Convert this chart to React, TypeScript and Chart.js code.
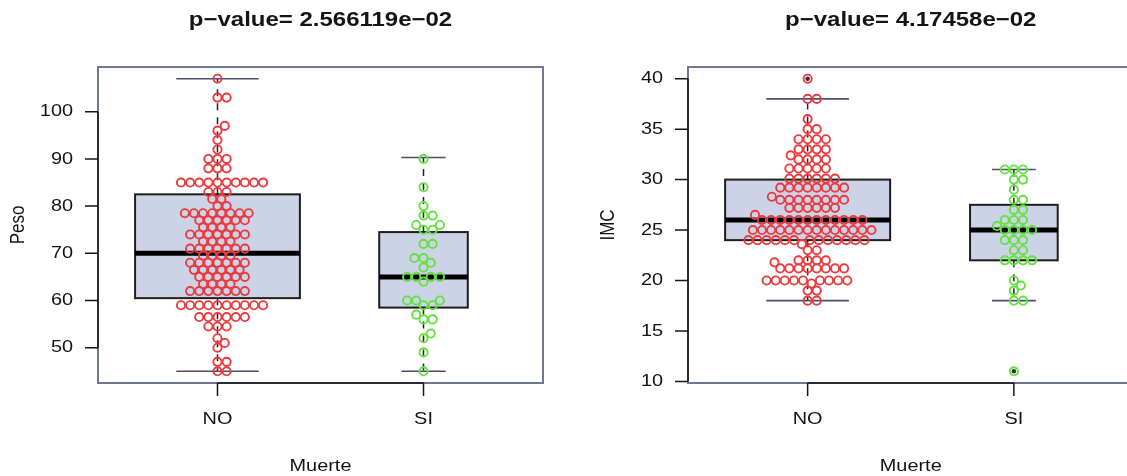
import React, { useEffect, useRef } from 'react';
import { Chart, registerables } from 'chart.js';

Chart.register(...registerables);

// ---------- data ----------
const categories = ['NO', 'SI'];
const xAxisTitle = 'Muerte';

const pesoTitle = 'p\u2212value= 2.566119e\u221202';
const pesoLabel = 'Peso';
const pesoTicks = [50, 60, 70, 80, 90, 100];
const pesoNo = [
  45, 45, 47, 47, 50, 51, 52, 54.5, 54.5, 54.5,
  56.5, 56.5, 56.5, 56.5, 56.5, 56.5,
  59, 59, 59, 59, 59, 59, 59, 59, 59, 59,
  62, 62, 62, 62, 62, 62, 62, 63.5, 63.5, 63.5, 63.5,
  65, 65, 65, 65, 65, 65, 66.5, 66.5, 66.5, 66.5, 66.5, 66.5,
  68, 68, 68, 68, 68, 68, 68, 69.5, 69.5, 69.5, 69.5,
  71, 71, 71, 71, 71, 71, 71, 72.5, 72.5, 72.5, 72.5,
  74, 74, 74, 74, 74, 74, 74, 75.5, 75.5, 75.5, 75.5,
  77, 77, 77, 77, 77, 77, 78.5, 78.5, 78.5, 78.5, 78.5, 78.5, 78.5, 78.5,
  80, 80, 81.5, 81.5, 83, 83, 83,
  85, 85, 85, 85, 85, 85, 85, 85, 85, 85,
  88, 88, 88, 90, 90, 90, 92, 94, 96, 97, 103, 103, 107,
];
const pesoSi = [
  45, 49, 52, 53, 56, 56, 57, 59, 59, 60, 60, 60, 64, 65, 65, 65, 65,
  67, 68, 69, 69, 72, 72, 75, 75, 76, 76, 78, 78, 80, 84, 90,
];
// [lower whisker, Q1, median, Q3, upper whisker]
const pesoStatsNo = [45, 60.5, 70, 82.5, 107];
const pesoStatsSi = [45, 58.5, 65, 74.5, 90.3];
const pesoBoxWidths = [0.8, 0.43];
const pesoOutliersNo: number[] = [];
const pesoOutliersSi: number[] = [];

const imcTitle = 'p\u2212value= 4.17458e\u221202';
const imcLabel = 'IMC';
const imcTicks = [10, 15, 20, 25, 30, 35, 40];
const imcNo = [
  18, 18, 19, 19, 19.7,
  20, 20, 20, 20, 20, 20, 20, 20, 20,
  21.2, 21.2, 21.2, 21.2, 21.2, 21.2, 21.2, 21.2, 21.8,
  22, 22, 22, 22, 23, 23, 23.6,
  24, 24, 24, 24, 24, 24, 24, 24, 24, 24, 24, 24, 24,
  25, 25, 25, 25, 25, 25, 25, 25, 25, 25, 25, 25, 25, 25,
  26, 26, 26, 26, 26, 26, 26, 26, 26, 26, 26, 26, 26.5,
  27.2, 27.2, 27.2, 27.2, 27.2, 27.2,
  28, 28, 28, 28, 28, 28, 28, 28, 28.3,
  29.2, 29.2, 29.2, 29.2, 29.2, 29.2, 29.2, 29.2,
  30.1, 30.1, 30.1, 30.1, 30.1, 30.1,
  31.1, 31.1, 31.1, 31.1, 31.1, 32, 32, 32, 32, 32.4,
  33, 33, 33, 33, 34, 34, 34, 34, 35, 35, 36, 38, 38, 40,
];
const imcSi = [
  11, 18, 18, 19, 19.5, 20, 22, 22, 22, 22, 23, 23, 24, 24, 24,
  25, 25, 25, 25, 25.4, 26, 26, 26, 27, 27, 28, 28, 29, 30, 30, 31, 31, 31,
];
const imcStatsNo = [18, 24, 26, 30, 38];
const imcStatsSi = [18, 22, 25, 27.5, 31];
const imcBoxWidths = [0.8, 0.425];
const imcOutliersNo = [40];
const imcOutliersSi = [11];

// ---------- styles ----------
const FONT = '"Liberation Sans", Arial, Helvetica, sans-serif';
const TEXT = '#141414';
const pointColors = ['#ea3a3e', '#62e23c'];
const boxFill = '#cdd3e6';
const frameColor = '#6f7797';
const STRETCH = 1.17;
const SWARM_D = 7.8;
const H = 476;

function swarmOffsets(pix: number[], d: number): number[] {
  const xs: number[] = [];
  const d2 = d * d * 0.999;
  for (let i = 0; i < pix.length; i++) {
    if (i === 0) { xs.push(0); continue; }
    const pos: number[] = [];
    const neg: number[] = [];
    const near: number[] = [];
    for (let j = 0; j < i; j++) {
      const dy = Math.abs(pix[i] - pix[j]);
      if (dy < d) {
        const off = Math.sqrt(d * d - dy * dy);
        pos.push(xs[j] + off);
        neg.push(xs[j] - off);
        near.push(j);
      }
    }
    if (near.length === 0) { xs.push(0); continue; }
    const cands = [0, ...pos, ...neg];
    let best = 0;
    let bestAbs = Infinity;
    for (const c of cands) {
      let ok = true;
      for (const j of near) {
        const dx = c - xs[j];
        const dy = pix[i] - pix[j];
        if (dx * dx + dy * dy < d2) { ok = false; break; }
      }
      if (ok && Math.abs(c) < bestAbs) { best = c; bestAbs = Math.abs(c); }
    }
    xs.push(best);
  }
  return xs;
}

function stretchText(ctx: CanvasRenderingContext2D, text: string, x: number, y: number, align: CanvasTextAlign, font: string) {
  ctx.save();
  ctx.font = font;
  ctx.textAlign = align;
  ctx.textBaseline = 'middle';
  ctx.translate(x, y);
  ctx.scale(STRETCH, 1);
  ctx.fillText(text, 0, 0);
  ctx.restore();
}

type PanelProps = {
  left: number;
  width: number;
  areaLeft: number;
  areaRight: number;
  title: string;
  yLabel: string;
  yTicks: number[];
  groups: number[][];
  stats: number[][];
  boxWidths: number[];
  outliers: number[][];
};

function Panel(props: PanelProps) {
  const ref = useRef<HTMLCanvasElement>(null);
  useEffect(() => {
    const { width, areaLeft, areaRight, title, yLabel, yTicks, groups, stats, boxWidths, outliers } = props;
    const all = groups.flat();
    const lo = Math.min(...all);
    const hi = Math.max(...all);
    const ext = (hi - lo) * 0.04;
    const n = categories.length;
    const xExt = n * 0.04;

    const boxPlugin = {
      id: 'boxes',
      beforeDatasetsDraw(chart: any) {
        const ctx = chart.ctx;
        const xs = chart.scales.x;
        const ys = chart.scales.y;
        ctx.save();
        stats.forEach((s, gi) => {
          const cx = xs.getPixelForValue(gi + 1);
          const hw = xs.getPixelForValue(gi + 1 + boxWidths[gi] / 2) - cx;
          const cw = hw / 2;
          const [wl, q1, md, q3, wh] = s.map((v) => ys.getPixelForValue(v));
          ctx.strokeStyle = '#222';
          ctx.lineWidth = 1.5;
          ctx.setLineDash([7, 7]);
          ctx.beginPath();
          ctx.moveTo(cx, q3); ctx.lineTo(cx, wh);
          ctx.moveTo(cx, q1); ctx.lineTo(cx, wl);
          ctx.stroke();
          ctx.setLineDash([]);
          ctx.strokeStyle = '#4a5068';
          ctx.lineWidth = 1.6;
          ctx.beginPath();
          ctx.moveTo(cx - cw, wh); ctx.lineTo(cx + cw, wh);
          ctx.moveTo(cx - cw, wl); ctx.lineTo(cx + cw, wl);
          ctx.stroke();
          ctx.fillStyle = boxFill;
          ctx.fillRect(cx - hw, q3, hw * 2, q1 - q3);
          ctx.strokeStyle = '#1e1e1e';
          ctx.lineWidth = 2;
          ctx.strokeRect(cx - hw, q3, hw * 2, q1 - q3);
          ctx.lineWidth = 5;
          ctx.strokeStyle = '#000';
          ctx.beginPath();
          ctx.moveTo(cx - hw, md); ctx.lineTo(cx + hw, md);
          ctx.stroke();
          ctx.fillStyle = '#333';
          outliers[gi].forEach((v) => {
            ctx.beginPath();
            ctx.arc(cx, ys.getPixelForValue(v), 2.3, 0, Math.PI * 2);
            ctx.fill();
          });
        });
        ctx.restore();
      },
      afterDraw(chart: any) {
        const ctx = chart.ctx;
        const xs = chart.scales.x;
        const ys = chart.scales.y;
        const a = chart.chartArea;
        ctx.save();
        ctx.strokeStyle = frameColor;
        ctx.lineWidth = 2;
        ctx.strokeRect(a.left, a.top, a.right - a.left, a.bottom - a.top);
        ctx.strokeStyle = '#151515';
        ctx.lineWidth = 1.5;
        ctx.beginPath();
        const yt = ys.ticks.map((t: any) => ys.getPixelForValue(t.value));
        const xt = xs.ticks.map((t: any) => xs.getPixelForValue(t.value));
        ctx.moveTo(a.left, yt[0]);
        ctx.lineTo(a.left, yt[yt.length - 1]);
        ctx.moveTo(xt[0], a.bottom);
        ctx.lineTo(xt[xt.length - 1], a.bottom);
        yt.forEach((p: number) => { ctx.moveTo(a.left, p); ctx.lineTo(a.left - 13, p); });
        xt.forEach((p: number) => { ctx.moveTo(p, a.bottom); ctx.lineTo(p, a.bottom + 13); });
        ctx.stroke();
        ctx.fillStyle = TEXT;
        const tickFont = `17px ${FONT}`;
        ys.ticks.forEach((t: any, i: number) => stretchText(ctx, String(t.value), a.left - 25, yt[i], 'right', tickFont));
        xs.ticks.forEach((t: any, i: number) => stretchText(ctx, categories[Math.round(t.value) - 1], xt[i], 419, 'center', tickFont));
        const cxm = (a.left + a.right) / 2;
        stretchText(ctx, title, cxm, 20, 'center', `bold 20.5px ${FONT}`);
        stretchText(ctx, xAxisTitle, cxm, 466, 'center', tickFont);
        ctx.save();
        ctx.translate(a.left - 79, (a.top + a.bottom) / 2);
        ctx.rotate(-Math.PI / 2);
        ctx.scale(1, STRETCH);
        ctx.font = tickFont;
        ctx.textAlign = 'center';
        ctx.textBaseline = 'middle';
        ctx.fillText(yLabel, 0, 0);
        ctx.restore();
        ctx.restore();
      },
    };

    const datasets = groups.map((vals, gi) => ({
      data: vals.map((v) => ({ x: gi + 1, y: v })),
      pointRadius: 4.1,
      pointHoverRadius: 4.1,
      pointBorderWidth: 1.9,
      pointBorderColor: pointColors[gi],
      pointBackgroundColor: 'rgba(0,0,0,0)',
      borderColor: pointColors[gi],
      backgroundColor: 'rgba(0,0,0,0)',
      showLine: false,
      clip: false as any,
    }));

    const chart = new Chart(ref.current as HTMLCanvasElement, {
      type: 'scatter',
      data: { datasets },
      options: {
        animation: false,
        responsive: false,
        maintainAspectRatio: false,
        devicePixelRatio: 1,
        events: [],
        layout: { padding: { left: 0, top: 67, right: width - areaRight, bottom: 0 } },
        plugins: { legend: { display: false }, tooltip: { enabled: false }, title: { display: false } },
        scales: {
          x: {
            type: 'linear',
            min: 1 - 0.5 - xExt,
            max: n + 0.5 + xExt,
            afterBuildTicks: (s: any) => { s.ticks = categories.map((_, i) => ({ value: i + 1 })); },
            afterFit: (s: any) => { s.height = H - 383; },
            ticks: { display: false },
            grid: { display: false },
            border: { display: false },
          },
          y: {
            type: 'linear',
            min: lo - ext,
            max: hi + ext,
            afterBuildTicks: (s: any) => { s.ticks = yTicks.map((v) => ({ value: v })); },
            afterFit: (s: any) => { s.width = areaLeft; },
            ticks: { display: false },
            grid: { display: false },
            border: { display: false },
          },
        },
      } as any,
      plugins: [boxPlugin],
    });

    const xs: any = chart.scales.x;
    const ys: any = chart.scales.y;
    const pxPerUnit = xs.getPixelForValue(2) - xs.getPixelForValue(1);
    groups.forEach((vals, gi) => {
      const order = vals.map((_, i) => i).sort((a, b) => vals[a] - vals[b] || a - b);
      const pix = order.map((i) => ys.getPixelForValue(vals[i]));
      const offs = swarmOffsets(pix, SWARM_D);
      (chart.data.datasets[gi] as any).data = order.map((idx, k) => ({
        x: gi + 1 + (offs[k] * STRETCH) / pxPerUnit,
        y: vals[idx],
      }));
    });
    chart.update('none');

    return () => chart.destroy();
  }, []);
  return (
    <canvas
      ref={ref}
      width={props.width}
      height={H}
      style={{ position: 'absolute', left: props.left, top: 0, width: props.width, height: H }}
    />
  );
}

export default function App() {
  return (
    <div style={{ position: 'fixed', left: 0, top: 0, width: 1127, height: H, overflow: 'hidden', background: '#fff' }}>
      <Panel
        left={0}
        width={563}
        areaLeft={98}
        areaRight={543}
        title={pesoTitle}
        yLabel={pesoLabel}
        yTicks={pesoTicks}
        groups={[pesoNo, pesoSi]}
        stats={[pesoStatsNo, pesoStatsSi]}
        boxWidths={pesoBoxWidths}
        outliers={[pesoOutliersNo, pesoOutliersSi]}
      />
      <Panel
        left={563}
        width={600}
        areaLeft={125}
        areaRight={570.5}
        title={imcTitle}
        yLabel={imcLabel}
        yTicks={imcTicks}
        groups={[imcNo, imcSi]}
        stats={[imcStatsNo, imcStatsSi]}
        boxWidths={imcBoxWidths}
        outliers={[imcOutliersNo, imcOutliersSi]}
      />
    </div>
  );
}
